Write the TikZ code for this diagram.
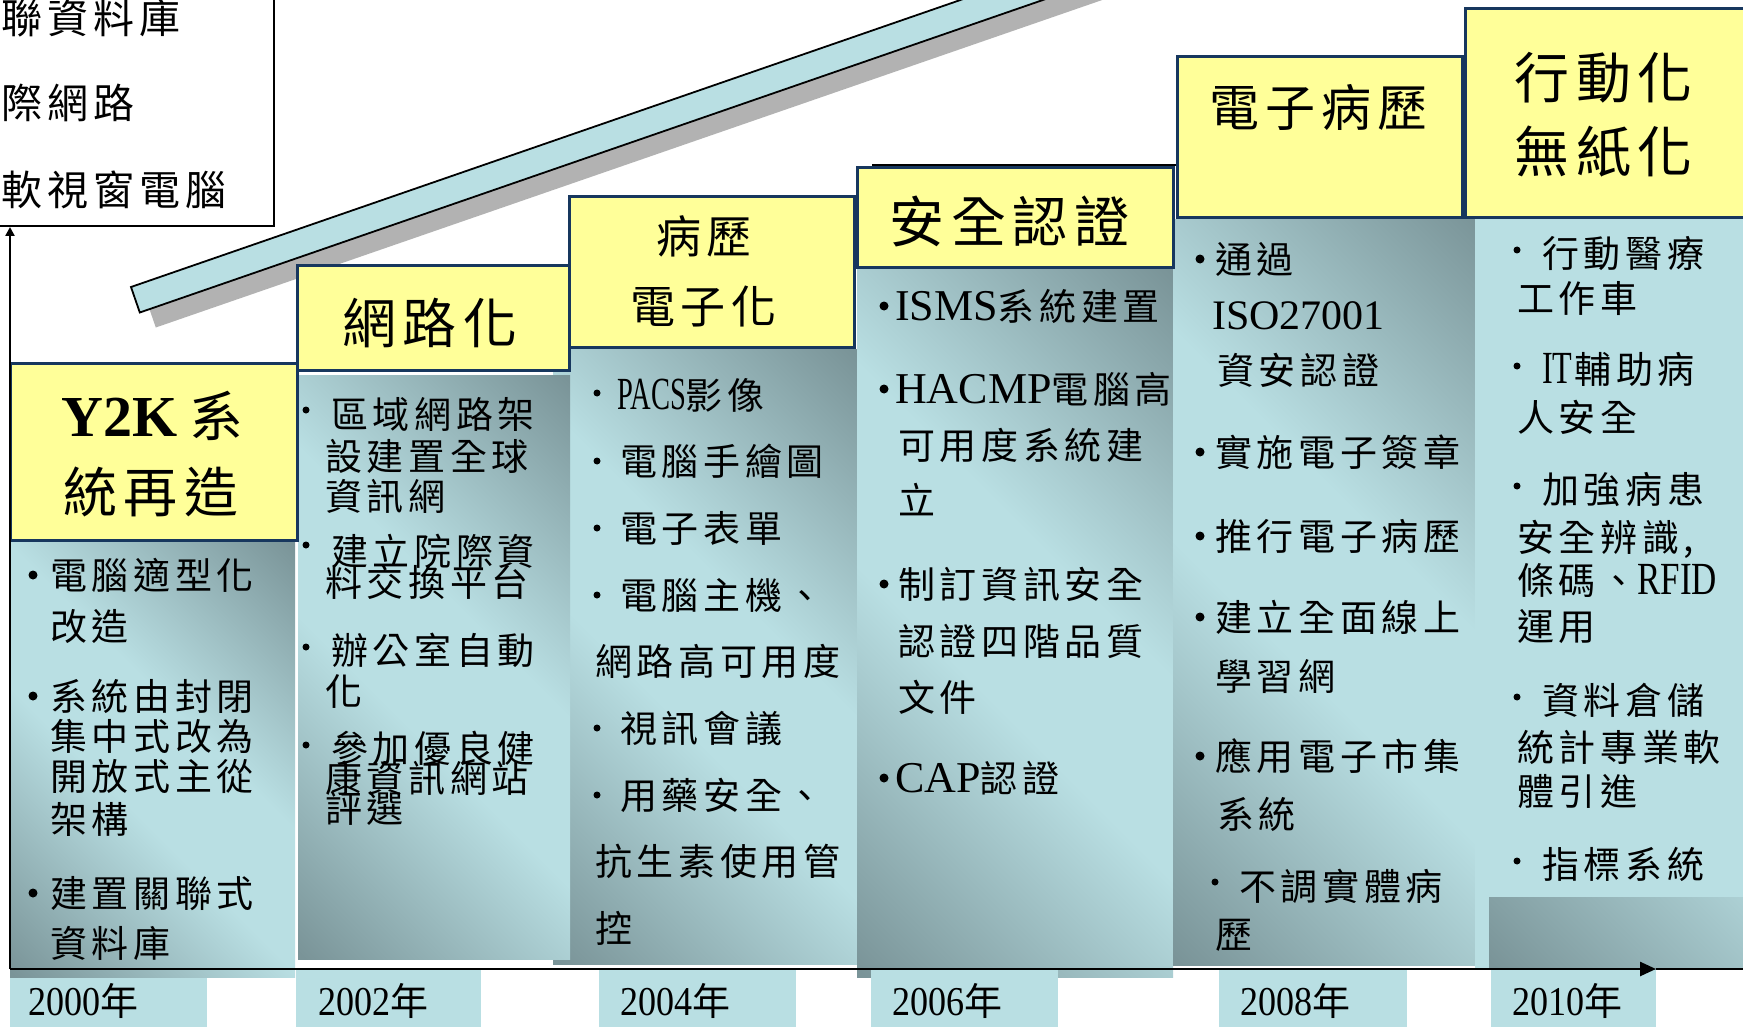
\documentclass[tikz,border=0pt]{standalone}
\usepackage{fontspec}
\usetikzlibrary{arrows.meta}
\setmainfont{Liberation Serif}
\newfontfamily\cj[LetterSpace=12.5]{Noto Sans CJK TC}
\newfontfamily\lat{Liberation Serif}
\definecolor{hdyel}{RGB}{255,255,153}
\definecolor{hdblue}{RGB}{23,55,94}
\definecolor{lteal}{RGB}{185,223,227}
\definecolor{dteal}{RGB}{122,148,152}
\definecolor{shgray}{RGB}{178,178,178}
\pgfdeclarehorizontalshading{bodyshade}{100bp}{color(0bp)=(dteal); color(15bp)=(dteal); color(43bp)=(lteal); color(57bp)=(lteal); color(85bp)=(dteal); color(100bp)=(dteal)}
\newcommand\Lb[2][44]{{\lat\fontsize{#1}{#1}\selectfont #2}}
\newcommand\Nr[2][0.62]{\scalebox{#1}[1]{\lat\fontsize{46}{46}\selectfont #2}}
\newcommand\Yr[1]{\scalebox{0.88}[1]{\lat\fontsize{41}{41}\selectfont #1}{\cj\fontsize{38}{38}\selectfont 年}}
\begin{document}
\begin{tikzpicture}[x=1pt,y=-1pt,
  bt/.style={anchor=base west, inner sep=0pt, font=\cj\fontsize{37}{37}\selectfont},
  tl/.style={anchor=base west, inner sep=0pt, font=\cj\fontsize{41}{41}\selectfont},
  hd/.style={anchor=base west, inner sep=0pt, font=\cj\fontsize{#1}{#1}\selectfont},
  hdr/.style={fill=hdyel, draw=hdblue, line width=3pt},
  body/.style={shading=bodyshade, shading angle=45},
  yrbox/.style={fill=lteal},
  yr/.style={anchor=base west, inner sep=0pt},
  bul/.style={fill=black}]
\useasboundingbox (0,0) rectangle (1743,1027);
\clip (0,0) rectangle (1743,1027);
\fill[white] (0,0) rectangle (1743,1027);

% slanted bar with shadow
\coordinate (b1) at (131,287);
\coordinate (b2) at (139.8,312.5);
\coordinate (b3) at (1368.3,-112.6);
\coordinate (b4) at (1359.5,-138.1);
\fill[shgray] ([shift={(16,15)}]b1) -- ([shift={(16,15)}]b4) -- ([shift={(16,15)}]b3) -- ([shift={(16,15)}]b2) -- cycle;
\filldraw[fill=lteal, draw=black, line width=1.8pt] (b1) -- (b4) -- (b3) -- (b2) -- cycle;

% top-left box
\draw[line width=2pt, fill=white] (-10,-10) rectangle (274,226);
\node[tl] (tA) at (1,34) {聯資料庫};
\node[tl] (tB) at (1,119) {際網路};
\node[tl] (tC) at (1,206) {軟視窗電腦};

% outline behind header 4
\draw[line width=2pt] (872,165) -- (1176,165);

% bodies
\shade[body] (553,349) rectangle (857,964);
\shade[body] (298,375) rectangle (570,959);
\shade[body] (10,540) rectangle (295,977);
\shade[body] (857,267) rectangle (1173,977);
\shade[body] (1173,220) rectangle (1488,965);
\fill[lteal] (1475,218) rectangle (1743,969);
\begin{scope}
\clip (1489,897) rectangle (1743,969);
\shade[body] (1489,218) rectangle (1743,969);
\end{scope}

% headers
\filldraw[hdr] (10,363) rectangle (297,540);
\filldraw[hdr] (297,265) rectangle (569,370);
\filldraw[hdr] (569,197) rectangle (854,347);
\filldraw[hdr] (857,168) rectangle (1173,267);
\filldraw[hdr] (1177,57) rectangle (1462,218);
\filldraw[hdr] (1465,9) rectangle (1760,218);

\node[hd=54] (h1a) at (61,436) {{\lat\bfseries\fontsize{58}{58}\selectfont Y2K}\hspace{12pt}系};
\node[hd=54] (h1b) at (63,512) {統再造};
\node[hd=54] (h2) at (342,343) {網路化};
\node[hd=45] (h3a) at (656,254) {病歷};
\node[hd=45] (h3b) at (630,323) {電子化};
\node[hd=55] (h4) at (889,243) {安全認證};
\node[hd=50] (h5) at (1209,127) {電子病歷};
\node[hd=55] (h6a) at (1514,99) {行動化};
\node[hd=55] (h6b) at (1514,173) {無紙化};

% column 1
\fill[bul] (33,575) circle[radius=4.5pt];
\fill[bul] (33,696) circle[radius=4.5pt];
\fill[bul] (33,893) circle[radius=4.5pt];
\node[bt] (c1a) at (50,589) {電腦適型化};
\node[bt] (c1b) at (50,640) {改造};
\node[bt] (c1c) at (50,710) {系統由封閉};
\node[bt] (c1d) at (50,750) {集中式改為};
\node[bt] (c1e) at (50,790) {開放式主從};
\node[bt] (c1f) at (50,833) {架構};
\node[bt] (c1g) at (50,907) {建置關聯式};
\node[bt] (c1h) at (50,957) {資料庫};

% column 2
\fill[bul] (306,410) circle[radius=3.5pt];
\fill[bul] (306,545) circle[radius=3.5pt];
\fill[bul] (306,647) circle[radius=3.5pt];
\fill[bul] (306,745) circle[radius=3.5pt];
\node[bt] (c2a) at (331,428) {區域網路架};
\node[bt] (c2b) at (325,470) {設建置全球};
\node[bt] (c2c) at (325,510) {資訊網};
\node[bt] (c2d) at (331,565) {建立院際資};
\node[bt] (c2e) at (325,596) {料交換平台};
\node[bt] (c2f) at (331,664) {辦公室自動};
\node[bt] (c2g) at (325,705) {化};
\node[bt] (c2h) at (331,762) {參加優良健};
\node[bt] (c2i) at (325,792) {康資訊網站};
\node[bt] (c2j) at (325,822) {評選};

% column 3
\fill[bul] (597,393) circle[radius=3.5pt];
\fill[bul] (597,461) circle[radius=3.5pt];
\fill[bul] (597,528) circle[radius=3.5pt];
\fill[bul] (597,595) circle[radius=3.5pt];
\fill[bul] (597,728) circle[radius=3.5pt];
\fill[bul] (597,795) circle[radius=3.5pt];
\node[bt] (c3a) at (617,409) {\Nr{PACS}影像};
\node[bt] (c3b) at (620,475) {電腦手繪圖};
\node[bt] (c3c) at (620,542) {電子表單};
\node[bt] (c3d) at (620,609) {電腦主機、};
\node[bt] (c3e) at (595,675) {網路高可用度};
\node[bt] (c3f) at (620,742) {視訊會議};
\node[bt] (c3g) at (620,809) {用藥安全、};
\node[bt] (c3h) at (595,875) {抗生素使用管};
\node[bt] (c3i) at (595,942) {控};

% column 4
\fill[bul] (884,306) circle[radius=4.5pt];
\fill[bul] (884,389) circle[radius=4.5pt];
\fill[bul] (884,584) circle[radius=4.5pt];
\fill[bul] (884,778) circle[radius=4.5pt];
\node[bt] (c4a) at (895,320) {\Lb{ISMS}系統建置};
\node[bt] (c4b) at (895,403) {\Lb{HACMP}電腦高};
\node[bt] (c4c) at (898,459) {可用度系統建};
\node[bt] (c4d) at (898,514) {立};
\node[bt] (c4e) at (898,598) {制訂資訊安全};
\node[bt] (c4f) at (898,655) {認證四階品質};
\node[bt] (c4g) at (898,711) {文件};
\node[bt] (c4h) at (895,792) {\Lb{CAP}認證};

% column 5
\fill[bul] (1200,259) circle[radius=4.5pt];
\fill[bul] (1200,452) circle[radius=4.5pt];
\fill[bul] (1200,536) circle[radius=4.5pt];
\fill[bul] (1200,617) circle[radius=4.5pt];
\fill[bul] (1200,756) circle[radius=4.5pt];
\fill[bul] (1215,882) circle[radius=3.5pt];
\node[bt] (c5a) at (1215,273) {通過};
\node[bt] (c5b) at (1212,329) {\Lb[42]{ISO27001}};
\node[bt] (c5c) at (1217,384) {資安認證};
\node[bt] (c5d) at (1215,466) {實施電子簽章};
\node[bt] (c5e) at (1215,550) {推行電子病歷};
\node[bt] (c5f) at (1215,631) {建立全面線上};
\node[bt] (c5g) at (1215,690) {學習網};
\node[bt] (c5h) at (1215,770) {應用電子市集};
\node[bt] (c5i) at (1217,828) {系統};
\node[bt] (c5j) at (1239,900) {不調實體病};
\node[bt] (c5k) at (1215,948) {歷};

% column 6
\fill[bul] (1517,250) circle[radius=3.5pt];
\fill[bul] (1517,366) circle[radius=3.5pt];
\fill[bul] (1517,486) circle[radius=3.5pt];
\fill[bul] (1517,697) circle[radius=3.5pt];
\fill[bul] (1517,861) circle[radius=3.5pt];
\node[bt] (c6a) at (1542,267) {行動醫療};
\node[bt] (c6b) at (1517,312) {工作車};
\node[bt] (c6c) at (1542,383) {\Nr[0.7]{IT}\hspace{2pt}輔助病};
\node[bt] (c6d) at (1517,431) {人安全};
\node[bt] (c6e) at (1542,503) {加強病患};
\node[bt] (c6f) at (1517,551) {安全辨識,};
\node[bt] (c6g) at (1517,594) {條碼、\Nr[0.76]{RFID}};
\node[bt] (c6h) at (1517,640) {運用};
\node[bt] (c6i) at (1542,714) {資料倉儲};
\node[bt] (c6j) at (1517,761) {統計專業軟};
\node[bt] (c6k) at (1517,805) {體引進};
\node[bt] (c6l) at (1542,878) {指標系統};

% year boxes
\fill[yrbox] (10,978) rectangle (207,1027);
\fill[yrbox] (296,970) rectangle (481,1027);
\fill[yrbox] (599,968) rectangle (796,1027);
\fill[yrbox] (871,968) rectangle (1058,1027);
\fill[yrbox] (1219,970) rectangle (1407,1027);
\fill[yrbox] (1491,970) rectangle (1656,1027);
\node[yr] (y1) at (28,1015) {\Yr{2000}};
\node[yr] (y2) at (318,1015) {\Yr{2002}};
\node[yr] (y3) at (620,1015) {\Yr{2004}};
\node[yr] (y4) at (892,1015) {\Yr{2006}};
\node[yr] (y5) at (1240,1015) {\Yr{2008}};
\node[yr] (y6) at (1512,1015) {\Yr{2010}};

% axes
\coordinate (o) at (10,969);
\coordinate (ytop) at (10,227);
\coordinate (xend) at (1656,969);
\coordinate (xfar) at (1743,969);
\draw[line width=1.5pt] (xend) -- (xfar);
\draw[line width=2.5pt, -{Triangle[length=16pt,width=14pt]}] (o) -- (xend);
\draw[line width=2.5pt, -{Triangle[length=9pt,width=9pt]}] (o) -- (ytop);
\end{tikzpicture}
\end{document}
